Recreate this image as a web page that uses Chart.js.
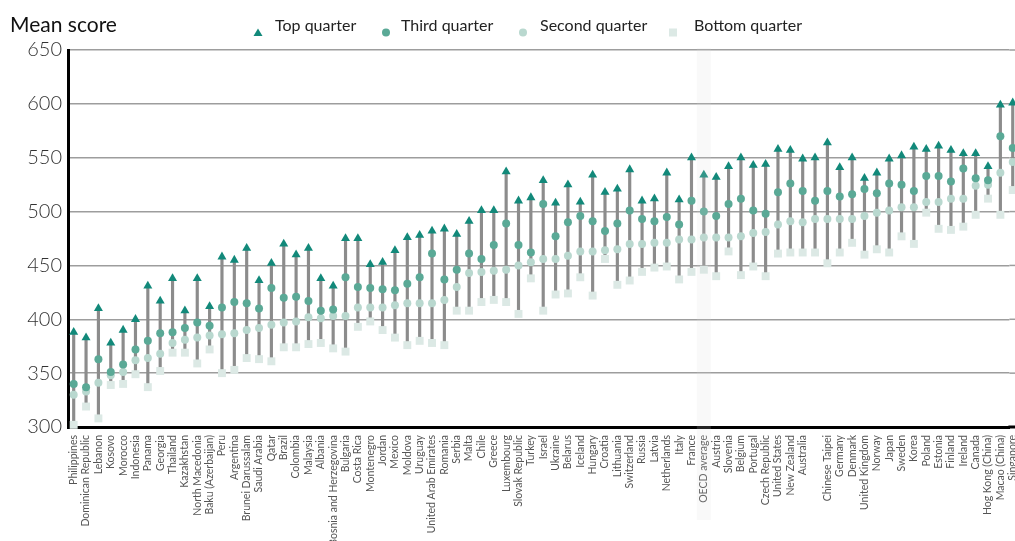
<!DOCTYPE html>
<html>
<head>
<meta charset="utf-8">
<script src="https://cdn.jsdelivr.net/npm/chart.js@4.4.1/dist/chart.umd.min.js"></script>
<style>
  html, body { margin: 0; padding: 0; background: #fff; }
  #wrap { position: relative; width: 1015px; height: 541px; font-family: Lato, "Open Sans", sans-serif; }
  #title { position: absolute; left: 10px; top: 11px; font-size: 21px; color: #111; }
  .leg-mark { position: absolute; top: 21px; }
  .leg-text { position: absolute; top: 15px; font-size: 16px; color: #222; white-space: nowrap; }
  canvas { position: absolute; left: 0; top: 0; }
</style>
</head>
<body>
<div id="wrap">
  <canvas id="chart" width="1015" height="541"></canvas>
  <div id="title">Mean score</div>
  <div id="legend"></div>
</div>
<script>
// countries, sorted as plotted (one unlabelled column before Chinese Taipei)
const countries = [
  'Philippines', 'Dominican Republic', 'Lebanon', 'Kosovo', 'Morocco', 'Indonesia', 'Panama',
  'Georgia', 'Thailand', 'Kazakhstan', 'North Macedonia', 'Baku (Azerbaijan)', 'Peru', 'Argentina',
  'Brunei Darussalam', 'Saudi Arabia', 'Qatar', 'Brazil', 'Colombia', 'Malaysia', 'Albania',
  'Bosnia and Herzegovina', 'Bulgaria', 'Costa Rica', 'Montenegro', 'Jordan', 'Mexico', 'Moldova',
  'Uruguay', 'United Arab Emirates', 'Romania', 'Serbia', 'Malta', 'Chile', 'Greece', 'Luxembourg',
  'Slovak Republic', 'Turkey', 'Israel', 'Ukraine', 'Belarus', 'Iceland', 'Hungary', 'Croatia',
  'Lithuania', 'Switzerland', 'Russia', 'Latvia', 'Netherlands', 'Italy', 'France', 'OECD average',
  'Austria', 'Slovenia', 'Belgium', 'Portugal', 'Czech Republic', 'United States', 'New Zealand',
  'Australia', '', 'Chinese Taipei', 'Germany', 'Denmark', 'United Kingdom', 'Norway', 'Japan',
  'Sweden', 'Korea', 'Poland', 'Estonia', 'Finland', 'Ireland', 'Canada', 'Hog Kong (China)',
  'Macao (China)', 'Singapore',
];

const topQuarter = [
  388, 383, 410, 378, 390, 400, 431, 417, 438, 408, 438, 412, 458, 455, 466, 436, 452, 470, 460, 466,
  438, 431, 475, 475, 451, 453, 464, 476, 478, 482, 484, 479, 491, 501, 501, 537, 510, 513, 529, 508,
  525, 509, 534, 518, 521, 539, 510, 512, 536, 511, 550, 534, 532, 542, 550, 543, 544, 558, 557, 549,
  550, 564, 541, 550, 531, 536, 549, 552, 560, 558, 561, 557, 554, 554, 542, 599, 601,
];
const thirdQuarter = [
  340, 337, 363, 351, 358, 372, 380, 387, 388, 392, 397, 394, 411, 416, 415, 410, 429, 420, 421, 417,
  408, 409, 439, 430, 429, 428, 427, 433, 439, 461, 437, 446, 461, 456, 469, 489, 469, 462, 507, 477,
  490, 496, 491, 482, 489, 501, 493, 491, 495, 488, 510, 500, 496, 507, 512, 501, 498, 518, 526, 519,
  510, 519, 514, 516, 521, 517, 526, 525, 519, 533, 533, 528, 540, 531, 529, 570, 559,
];
const secondQuarter = [
  330, 333, 341, 348, 351, 362, 364, 368, 378, 381, 383, 385, 386, 387, 390, 392, 395, 397, 398, 402,
  401, 403, 403, 411, 411, 411, 413, 415, 415, 415, 418, 430, 443, 444, 445, 446, 450, 453, 456, 456,
  459, 463, 463, 464, 465, 470, 470, 471, 471, 474, 474, 476, 476, 476, 477, 480, 481, 488, 491, 490,
  493, 493, 493, 493, 496, 499, 501, 504, 504, 509, 509, 512, 512, 524, 525, 536, 546,
];
const bottomQuarter = [
  302, 319, 308, 339, 340, 349, 337, 352, 369, 369, 359, 372, 350, 353, 364, 363, 361, 374, 374, 377,
  378, 373, 370, 393, 398, 390, 383, 376, 380, 378, 376, 408, 408, 416, 418, 416, 405, 438, 408, 423,
  424, 439, 422, 456, 432, 436, 444, 448, 449, 437, 444, 446, 440, 463, 441, 449, 440, 461, 462, 462,
  462, 452, 462, 471, 460, 465, 462, 477, 470, 499, 484, 483, 486, 497, 512, 497, 520,
];

const scoreTicks = [300, 350, 400, 450, 500, 550, 600, 650];

const SERIES = [
  { label: 'Top quarter', data: topQuarter, style: 'triangle', radius: 5.2, color: '#12897a' },
  { label: 'Third quarter', data: thirdQuarter, style: 'circle', radius: 4, color: '#5aa996' },
  { label: 'Second quarter', data: secondQuarter, style: 'circle', radius: 4, color: '#b9d8cf' },
  { label: 'Bottom quarter', data: bottomQuarter, style: 'rect', radius: 5.6, color: '#dce9e5' },
];

// legend row: marker centre and text start for each series
const LEGEND_POS = [[258, 275], [386, 401], [523, 540], [673, 694]];

const FONT = 'Lato, "Open Sans", sans-serif';
const GRID = '#9d9d9d';
const oecdIndex = countries.indexOf('OECD average');

function markerSvg(s) {
  const c = s.color;
  let shape;
  if (s.style === 'triangle') shape = `<polygon points="0.5,8 5,0.5 9.5,8" fill="${c}"/>`;
  else if (s.style === 'rect') shape = `<rect x="1" y="0.5" width="8" height="8" fill="${c}"/>`;
  else shape = `<circle cx="5" cy="4.5" r="4" fill="${c}"/>`;
  return `<svg width="10" height="9">${shape}</svg>`;
}

const legend = document.getElementById('legend');
SERIES.forEach((s, i) => {
  const [mx, tx] = LEGEND_POS[i];
  legend.insertAdjacentHTML('beforeend',
    `<div class="leg-mark" style="left:${mx - 5}px">${markerSvg(s)}</div>` +
    `<div class="leg-text" style="left:${tx}px">${s.label}</div>`);
});

// run the score gridlines and the base line on to the right edge of the canvas
const gridToEdge = {
  id: 'gridToEdge',
  beforeDatasetsDraw(chart) {
    const { ctx, chartArea, scales } = chart;
    ctx.save();
    ctx.strokeStyle = GRID;
    ctx.lineWidth = 1.5;
    scoreTicks.forEach(v => {
      const y = scales.y.getPixelForValue(v);
      ctx.beginPath();
      ctx.moveTo(chartArea.right, y);
      ctx.lineTo(chart.width, y);
      ctx.stroke();
    });
    ctx.strokeStyle = '#000';
    ctx.lineWidth = 3;
    ctx.beginPath();
    ctx.moveTo(chartArea.right - 1, chartArea.bottom);
    ctx.lineTo(chart.width, chartArea.bottom);
    ctx.stroke();
    ctx.restore();
  },
};

// light band behind the OECD average column, reaching down through its label
const oecdBand = {
  id: 'oecdBand',
  afterDraw(chart) {
    const { ctx, chartArea, scales } = chart;
    const x = scales.x.getPixelForValue(oecdIndex);
    ctx.save();
    ctx.fillStyle = 'rgba(217, 217, 217, 0.16)';
    ctx.fillRect(x - 7, chartArea.top - 2, 14, 522 - chartArea.top);
    ctx.restore();
  },
};

const toPoints = arr => arr.map((v, i) => ({ x: i, y: v }));

const datasets = SERIES.map(s => ({
  label: s.label,
  data: toPoints(s.data),
  pointStyle: s.style,
  pointRadius: s.radius,
  backgroundColor: s.color,
  borderWidth: 0,
  clip: false,
}));

// grey stems from bottom quarter up to top quarter
datasets.push({
  type: 'bar',
  label: 'range',
  data: bottomQuarter.map((b, i) => ({ x: i, y: [b, topQuarter[i]] })),
  backgroundColor: '#8c8c8c',
  barThickness: 2.5,
  borderWidth: 0,
  clip: false,
});

new Chart(document.getElementById('chart'), {
  type: 'scatter',
  data: { datasets },
  options: {
    responsive: false,
    animation: false,
    events: [],
    layout: { padding: { top: 50, right: -6, bottom: 0, left: 0 } },
    plugins: {
      legend: { display: false },
      tooltip: { enabled: false },
    },
    scales: {
      x: {
        type: 'linear',
        offset: false,
        min: -0.461,
        max: 75.73,
        afterBuildTicks: axis => { axis.ticks = countries.map((_, i) => ({ value: i })); },
        afterFit: axis => {
          axis.height = 114;
          axis.paddingLeft = 0;
          axis.paddingRight = 0;
        },
        ticks: {
          autoSkip: false,
          minRotation: 90,
          maxRotation: 90,
          padding: 8,
          color: '#555',
          font: { family: FONT, size: 10.5 },
          callback: v => countries[v],
        },
        grid: { display: false, drawTicks: false, offset: false },
        border: { display: true, color: '#000', width: 3 },
      },
      y: {
        min: 300,
        max: 650,
        afterBuildTicks: axis => { axis.ticks = scoreTicks.map(v => ({ value: v })); },
        afterFit: axis => {
          axis.width = 68;
          axis.paddingTop = 0;
          axis.paddingBottom = 0;
        },
        ticks: {
          padding: 6,
          color: '#333',
          font: { family: FONT, size: 20, weight: '300' },
        },
        grid: { color: GRID, lineWidth: 1.5, drawTicks: false },
        border: { color: '#000', width: 3 },
      },
    },
  },
  plugins: [gridToEdge, oecdBand],
});
</script>
</body>
</html>
